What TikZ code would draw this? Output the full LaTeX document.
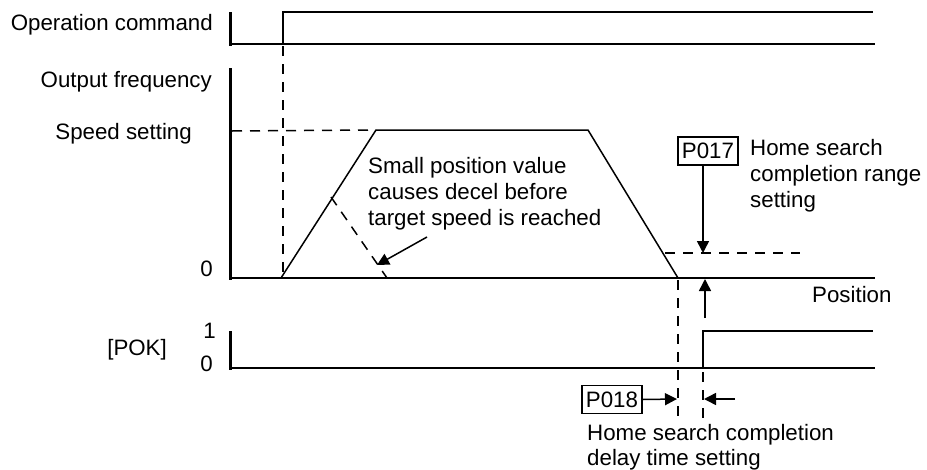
\documentclass[tikz,border=0pt]{standalone}
\usepackage{fontspec}
\setmainfont{Liberation Sans}
\usetikzlibrary{arrows.meta}
\begin{document}
\begin{tikzpicture}[x=1pt,y=-1pt,
  lbl/.style={inner sep=0pt,font=\fontsize{22.3}{26}\selectfont},
  pbox/.style={draw,line width=1.5pt,minimum width=60pt,minimum height=28pt,inner sep=0pt,font=\fontsize{22.3}{26}\selectfont},
  axisbar/.style={line width=3pt},
  sig/.style={line width=2pt},
  thin/.style={line width=1.5pt},
  dsh/.style={line width=1.5pt,dash pattern=on 10pt off 8pt},
  arr/.style={line width=1.5pt,-{Triangle[length=12pt,width=12pt]}}]
\useasboundingbox (0,0) rectangle (927,469);
% labels
\node[lbl,anchor=base east] (lop) at (213,30) {Operation command};
\node[lbl,anchor=base east] (lof) at (212,87) {Output frequency};
\node[lbl,anchor=base east] (lss) at (192,139) {Speed setting};
\node[lbl,anchor=base east] (lz1) at (213,276) {0};
\node[lbl,anchor=base east] (lone) at (216,338) {1};
\node[lbl,anchor=base east] (lz2) at (213,371) {0};
\node[lbl,anchor=base east] (lpok) at (167,355) {[POK]};
\node[lbl,anchor=base west] (s1) at (368,173) {Small position value};
\node[lbl,anchor=base west] (s2) at (368,199) {causes decel before};
\node[lbl,anchor=base west] (s3) at (368,225) {target speed is reached};
\node[pbox] (p17) at (708,151) {P017};
\node[lbl,anchor=base west] (h1) at (750,155) {Home search};
\node[lbl,anchor=base west] (h2) at (750,181) {completion range};
\node[lbl,anchor=base west] (h3) at (750,207) {setting};
\node[lbl,anchor=base west] (lpos) at (812,302) {Position};
\node[pbox] (p18) at (612,399.5) {P018};
\node[lbl,anchor=base west] (d1) at (587,440) {Home search completion};
\node[lbl,anchor=base west] (d2) at (587,465) {delay time setting};
% coordinates
\coordinate (opb) at (230,12); \coordinate (ope) at (230,45.5);
\coordinate (opl) at (230,44); \coordinate (opr) at (875,44);
\coordinate (opu) at (283,44); \coordinate (opt) at (283,12); \coordinate (optr) at (873,12);
\coordinate (fa) at (230,68); \coordinate (fb) at (230,279.5);
\coordinate (z0) at (230,278); \coordinate (z1) at (875,278);
\coordinate (t0) at (281,278); \coordinate (t1) at (376,130); \coordinate (t2) at (588,130); \coordinate (t3) at (678,278);
\coordinate (ss0) at (232,131);
\coordinate (dv0) at (283,46);
\coordinate (dv1) at (283,278);
\coordinate (dc0) at (331,197); \coordinate (dc1) at (387,278);
\coordinate (ar0) at (427,237); \coordinate (ar1) at (377,265);
\coordinate (rg0) at (665,253); \coordinate (rg1) at (800,253);
\coordinate (rgt) at (703,253);
\coordinate (up0) at (705,318); \coordinate (up1) at (705,279);
\coordinate (pa) at (230,331); \coordinate (pb) at (230,369.5);
\coordinate (p0) at (230,368); \coordinate (p1) at (875,368);
\coordinate (ps) at (703,368); \coordinate (pt) at (703,331); \coordinate (ptr) at (873,331);
\coordinate (va0) at (678,280); \coordinate (va1) at (678,418);
\coordinate (vb0) at (703,372); \coordinate (vb1) at (703,418);
\coordinate (la) at (677,399); \coordinate (lb0) at (735,399); \coordinate (lb1) at (704,399);
% operation command
\draw[axisbar] (opb) -- (ope);
\draw[sig] (opl) -- (opr);
\draw[sig] (opu) -- (opt) -- (optr);
% output frequency
\draw[axisbar] (fa) -- (fb);
\draw[sig] (z0) -- (z1);
\draw[thin,line join=miter] (t0) -- (t1) -- (t2) -- (t3);
\draw[dsh] (ss0) -- (t1);
\draw[dsh] (dv0) -- (dv1);
\draw[dsh] (dc0) -- (dc1);
\draw[arr] (ar0) -- (ar1);
\draw[dsh] (rg0) -- (rg1);
\draw[arr] (p17.south -| rgt) -- (rgt);
\draw[arr] (up0) -- (up1);
% POK
\draw[axisbar] (pa) -- (pb);
\draw[sig] (p0) -- (p1);
\draw[sig] (ps) -- (pt) -- (ptr);
\draw[dsh] (va0) -- (va1);
\draw[dsh] (vb0) -- (vb1);
\draw[arr] (p18.east) -- (la);
\draw[arr] (lb0) -- (lb1);
\end{tikzpicture}
\end{document}
